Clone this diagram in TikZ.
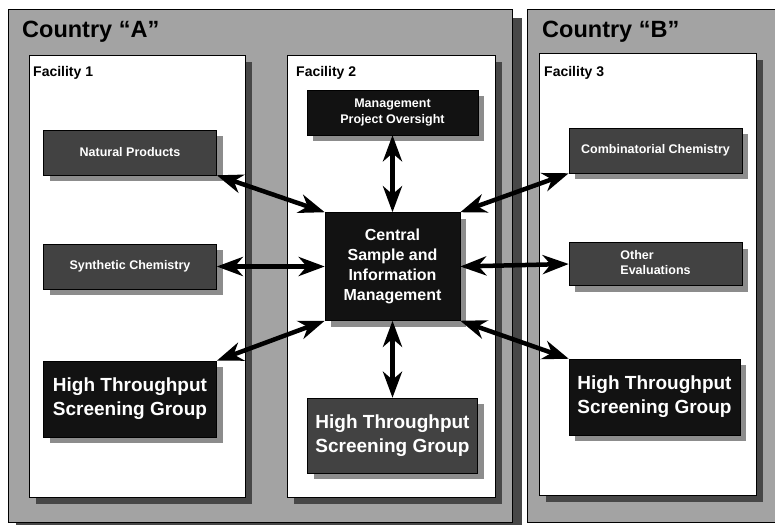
\documentclass[tikz,border=0pt]{standalone}
\usepackage{fontspec}
\setmainfont{Liberation Sans}
\usetikzlibrary{arrows.meta,shadows}

\begin{document}
\begin{tikzpicture}[x=1pt,y=-1pt,
  country/.style={draw=black, line width=1pt, fill=black!36},
  facility/.style={draw=black, line width=0.8pt, fill=white},
  fshadow/.style={fill=black!72},
  title/.style={anchor=base west, inner sep=0pt, font=\fontsize{23.5}{28}\selectfont\bfseries},
  flabel/.style={anchor=base west, inner sep=0pt, font=\fontsize{14}{17}\selectfont\bfseries},
  box/.style={rectangle, draw=black, line width=0.5pt, minimum width=173pt,
    text=white, align=center, inner sep=2pt,
    drop shadow={shadow xshift=6pt, shadow yshift=-6pt, fill=black!45, opacity=1}},
  darkbox/.style={box, fill=black!93},
  midbox/.style={box, fill=black!74},
  small/.style={font=\fontsize{12.5}{16}\selectfont\bfseries},
  big/.style={font=\fontsize{19}{24}\selectfont\bfseries},
  link/.style={{Stealth[length=26pt,width=19pt,inset=8pt]}-{Stealth[length=26pt,width=19pt,inset=8pt]},
    line width=4.5pt, black},
]
\useasboundingbox (0,0) rectangle (775,524);
\fill[white] (0,0) rectangle (775,524);

% countries
\fill[fshadow] (16,18) rectangle (522,526);
\draw[country] (8,10) rectangle (512,522);
\draw[country] (527,10) rectangle (790,522);
\node[title] (ta) at (22,38) {Country “A”};
\node[title] (tb) at (542,38) {Country “B”};

% facilities with their shadows
\fill[fshadow] (36,62) rectangle (252,504);
\draw[facility] (29,55) rectangle (245,497);
\fill[fshadow] (294,62) rectangle (502,504);
\draw[facility] (287,55) rectangle (495,497);
\fill[fshadow] (546,60) rectangle (763,502);
\draw[facility] (539,53) rectangle (756,495);
\node[flabel] (f1) at (33,77) {Facility 1};
\node[flabel] (f2) at (296,77) {Facility 2};
\node[flabel] (f3) at (544,77) {Facility 3};

% groups
\node[midbox, small, minimum height=45pt] (np) at (130,152.5) {Natural Products};
\node[midbox, small, minimum height=45pt] (sc) at (130,266.5) {Synthetic Chemistry};
\node[darkbox, big, minimum height=76pt] (h1) at (130,399) {High Throughput\\Screening Group};

\node[darkbox, small, minimum width=171pt, minimum height=45pt] (mg) at (392.5,112.5) {Management\\Project Oversight};
\node[darkbox, font=\fontsize{16}{20}\selectfont\bfseries, minimum width=135pt, minimum height=108pt] (cs) at (392.5,266.5) {Central\\Sample and\\Information\\Management};
\node[midbox, big, minimum width=170pt, minimum height=75pt] (h2) at (392.5,435.5) {High Throughput\\Screening Group};

\node[midbox, small, minimum height=45pt] (cc) at (655.5,150.5) {Combinatorial Chemistry};
\node[midbox, small, minimum height=43pt] (oe) at (655.5,264) {\begin{tabular}{@{}l@{}}Other\\[-1pt]Evaluations\end{tabular}};
\node[darkbox, big, minimum width=171pt, minimum height=76pt] (h3) at (654.5,397) {High Throughput\\Screening Group};

% links
\draw[link] (np.south east) -- (cs.north west);
\draw[link] (sc.east) -- (cs.west);
\draw[link] (h1.north east) -- (cs.south west);
\draw[link] (mg.south) -- (cs.north);
\draw[link] (cs.south) -- (h2.north);
\draw[link] (cs.north east) -- (cc.south west);
\draw[link] (cs.east) -- (oe.west);
\draw[link] (cs.south east) -- (h3.north west);
\end{tikzpicture}
\end{document}
